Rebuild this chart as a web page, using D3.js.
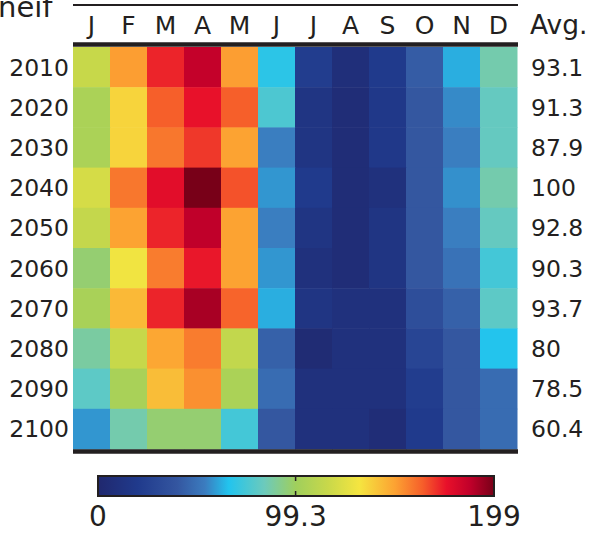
<!DOCTYPE html>
<html><head><meta charset="utf-8">
<script src="https://cdn.jsdelivr.net/npm/d3@7"></script>
<style>html,body{margin:0;padding:0;background:#fff;overflow:hidden}text{font-family:"DejaVu Sans",sans-serif;fill:#231f20}</style>
</head><body><svg id="c" width="592" height="533"></svg>
<script>
const months = ["J","F","M","A","M","J","J","A","S","O","N","D"];
const years = ["2010","2020","2030","2040","2050","2060","2070","2080","2090","2100"];
const avgLabels = ["93.1","91.3","87.9","100","92.8","90.3","93.7","80","78.5","60.4"];
const v2010 = [115,150,172,186,150,68,22,8,20,42,62,86];
const v2020 = [104,136,163,175,163,76,14,6,18,40,56,82];
const v2030 = [104,136,158,169,149,54,14,6,18,40,54,82];
const v2040 = [120,158,177,199,165,58,20,6,10,40,57,86];
const v2050 = [114,149,172,187,149,54,14,6,14,40,54,82];
const v2060 = [96,130,157,174,149,58,10,6,14,40,50,74];
const v2070 = [103,143,172,191,162,62,14,10,10,34,44,80];
const v2080 = [88,115,148,157,113,44,4,10,10,28,40,66];
const v2090 = [80,103,142,153,104,48,10,10,10,22,40,48];
const v2100 = [58,86,96,96,74,40,10,10,6,20,40,48];
const values = [v2010,v2020,v2030,v2040,v2050,v2060,v2070,v2080,v2090,v2100];
const cbTicks = [0, 99.3, 199];
const cbMax = 199;
const stopPos = [0,0.10,0.20,0.27,0.33,0.42,0.50,0.58,0.66,0.75,0.82,0.88,0.94,1.0];
const stopCol = ["#20286e","#203a8c","#3456a0","#3b7cbf","#22c4ee","#6ccabc","#a0cf5c","#c8d84a","#f5e540","#fca232","#f65e2a","#e8102a","#c0002a","#780018"];

const svg = d3.select("#c");
const color = d3.scaleLinear().domain(stopPos.map(p=>p*cbMax)).range(stopCol).interpolate(d3.interpolateRgb).clamp(true);
const x = d3.scaleBand().domain(d3.range(12)).range([73,517]);
const y = d3.scaleBand().domain(years).range([47,449]);

svg.append("text").attr("x",-2).attr("y",17).attr("font-size",29).text("neif");

const cells = [];
values.forEach((row,i)=>row.forEach((v,j)=>cells.push({yr:years[i],m:j,v})));
svg.append("g").selectAll("rect").data(cells).join("rect")
  .attr("x",d=>x(d.m)).attr("y",d=>y(d.yr))
  .attr("width",x.bandwidth()+0.5).attr("height",y.bandwidth()+0.5)
  .attr("fill",d=>color(d.v));

// rules
svg.append("line").attr("x1",73).attr("x2",518).attr("y1",5).attr("y2",5).attr("stroke","#231f20").attr("stroke-width",2);
svg.append("line").attr("x1",73).attr("x2",518).attr("y1",44.5).attr("y2",44.5).attr("stroke","#231f20").attr("stroke-width",4.5);
svg.append("line").attr("x1",73).attr("x2",518).attr("y1",451.5).attr("y2",451.5).attr("stroke","#231f20").attr("stroke-width",4.5);

// month labels
svg.append("g").selectAll("text").data(months).join("text")
  .attr("x",(d,i)=>x(i)+x.bandwidth()/2).attr("y",34).attr("text-anchor","middle").attr("font-size",25).text(d=>d);
svg.append("text").attr("x",530).attr("y",34).attr("font-size",26.5).text("Avg.");

// row labels
svg.append("g").selectAll("text").data(years).join("text")
  .attr("x",69).attr("y",d=>y(d)+y.bandwidth()/2+8.5).attr("text-anchor","end").attr("font-size",23.5).text(d=>d);
svg.append("g").selectAll("text").data(avgLabels).join("text")
  .attr("x",531).attr("y",(d,i)=>y(years[i])+y.bandwidth()/2+8.5).attr("font-size",23.5).text(d=>d);

// colorbar
const defs = svg.append("defs");
const grad = defs.append("linearGradient").attr("id","cb").attr("x1","0").attr("x2","1").attr("y1","0").attr("y2","0");
grad.selectAll("stop").data(stopPos).join("stop").attr("offset",d=>d).attr("stop-color",(d,i)=>stopCol[i]);
const cx = d3.scaleLinear().domain([0,cbMax]).range([98,494]);
const cbY0 = 476, cbY1 = 496;
svg.append("rect").attr("x",cx(0)).attr("y",cbY0).attr("width",cx(cbMax)-cx(0)).attr("height",cbY1-cbY0)
  .attr("fill","url(#cb)").attr("stroke","#231f20").attr("stroke-width",2);
svg.append("line").attr("x1",cx(cbTicks[1])).attr("x2",cx(cbTicks[1])).attr("y1",cbY0).attr("y2",cbY0+5).attr("stroke","#231f20").attr("stroke-width",1.5);
svg.append("line").attr("x1",cx(cbTicks[1])).attr("x2",cx(cbTicks[1])).attr("y1",cbY1-5).attr("y2",cbY1).attr("stroke","#231f20").attr("stroke-width",1.5);
svg.append("g").selectAll("text").data(cbTicks).join("text")
  .attr("x",d=>cx(d)).attr("y",526).attr("text-anchor","middle").attr("font-size",28).text(d=>d);
</script></body></html>
